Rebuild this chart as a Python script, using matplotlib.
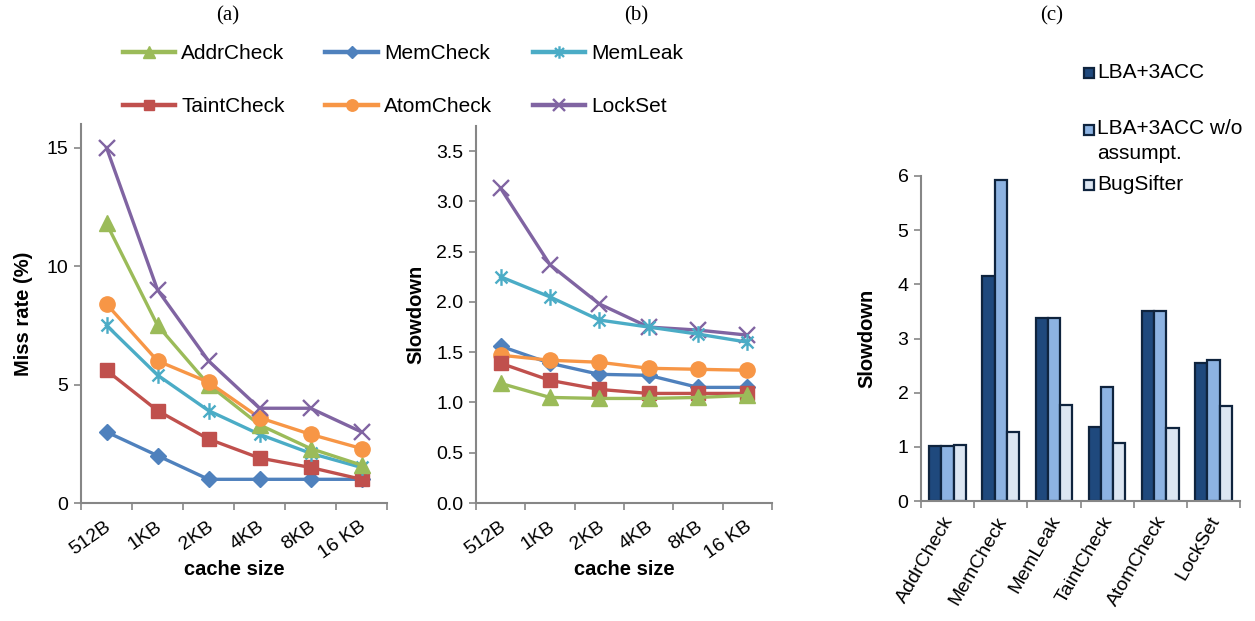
import matplotlib
matplotlib.use("Agg")
import matplotlib.pyplot as plt
from matplotlib.path import Path
from matplotlib.lines import Line2D
from matplotlib.patches import Rectangle
from matplotlib.transforms import ScaledTranslation
import numpy as np

# ---------------- data ----------------
cache_sizes = ["512B", "1KB", "2KB", "4KB", "8KB", "16 KB"]
series_names = ["AddrCheck", "MemCheck", "MemLeak", "TaintCheck", "AtomCheck", "LockSet"]

miss_addrcheck = [11.8, 7.5, 5.0, 3.3, 2.3, 1.6]
miss_memcheck = [3.0, 2.0, 1.0, 1.0, 1.0, 1.0]
miss_memleak = [7.5, 5.4, 3.9, 2.9, 2.1, 1.5]
miss_taintcheck = [5.6, 3.9, 2.7, 1.9, 1.5, 1.0]
miss_atomcheck = [8.4, 6.0, 5.1, 3.6, 2.9, 2.3]
miss_lockset = [15.0, 9.0, 6.0, 4.0, 4.0, 3.0]

slow_addrcheck = [1.19, 1.05, 1.04, 1.04, 1.05, 1.07]
slow_memcheck = [1.56, 1.39, 1.28, 1.27, 1.15, 1.15]
slow_memleak = [2.25, 2.05, 1.82, 1.75, 1.68, 1.60]
slow_taintcheck = [1.39, 1.22, 1.13, 1.09, 1.09, 1.09]
slow_atomcheck = [1.47, 1.42, 1.40, 1.34, 1.33, 1.32]
slow_lockset = [3.13, 2.37, 1.98, 1.75, 1.72, 1.67]

bar_categories = ["AddrCheck", "MemCheck", "MemLeak", "TaintCheck", "AtomCheck", "LockSet"]
bar_names = ["LBA+3ACC", "LBA+3ACC w/o\nassumpt.", "BugSifter"]
bar_lba = [1.01, 4.15, 3.37, 1.37, 3.50, 2.54]
bar_lba_noassume = [1.01, 5.92, 3.37, 2.10, 3.50, 2.61]
bar_bugsifter = [1.04, 1.27, 1.78, 1.08, 1.34, 1.75]

# ---------------- style ----------------
plt.rcParams['font.family'] = ['Liberation Sans', 'DejaVu Sans']
W, H = 1255, 621
fig = plt.figure(figsize=(W / 100, H / 100), dpi=100)

asterisk = Path([(0, -1), (0, 1), (-0.72, -0.72), (0.72, 0.72), (-0.72, 0.72), (0.72, -0.72)],
                [Path.MOVETO, Path.LINETO] * 3)

styles = {
    "AddrCheck": dict(color="#9BBB59", marker="^", ms=11),
    "MemCheck": dict(color="#4F81BD", marker="D", ms=8),
    "MemLeak": dict(color="#4BACC6", marker=asterisk, ms=12, mew=1.7),
    "TaintCheck": dict(color="#C0504D", marker="s", ms=10),
    "AtomCheck": dict(color="#F79646", marker="o", ms=11),
    "LockSet": dict(color="#8064A2", marker="x", ms=12, mew=1.7),
}
spine_col = "#868686"
tick_fs = 14
label_fs = 14.5
text_fs = 15


def axrect(l, r, b, t):
    return [l / W, (H - b) / H, (r - l) / W, (b - t) / H]


def style_axes(ax, ncat):
    for s in ["top", "right"]:
        ax.spines[s].set_visible(False)
    for s in ["left", "bottom"]:
        ax.spines[s].set_color(spine_col)
        ax.spines[s].set_linewidth(1.5)
    ax.set_xlim(-0.5, ncat - 0.5)
    ax.set_xticks(np.arange(ncat + 1) - 0.5)
    ax.set_xticklabels([])
    ax.tick_params(axis="x", which="major", length=5, width=1.2, color=spine_col, direction="out")
    ax.tick_params(axis="y", which="major", length=5, width=1.2, color=spine_col,
                   direction="out", labelsize=tick_fs, pad=4)
    ax.set_xticks(np.arange(ncat), minor=True)
    ax.tick_params(axis="x", which="minor", length=0, labelsize=tick_fs)


def shift_labels(ax, dx_px):
    off = ScaledTranslation(dx_px / 100, 0, fig.dpi_scale_trans)
    for lbl in ax.get_xticklabels(minor=True):
        lbl.set_transform(lbl.get_transform() + off)


x = np.arange(len(cache_sizes))

# ---------- (a) ----------
axA = fig.add_axes(axrect(81, 387, 503, 124))
miss = {"AddrCheck": miss_addrcheck, "MemCheck": miss_memcheck, "MemLeak": miss_memleak,
        "TaintCheck": miss_taintcheck, "AtomCheck": miss_atomcheck, "LockSet": miss_lockset}
for name in ["MemCheck", "TaintCheck", "MemLeak", "AddrCheck", "AtomCheck", "LockSet"]:
    st = styles[name]
    axA.plot(x, miss[name], color=st["color"], lw=2.4, marker=st["marker"],
             ms=st["ms"], mew=st.get("mew", 1.0), mec=st["color"], mfc=st["color"])
axA.set_ylim(0, 16)
axA.set_yticks([0, 5, 10, 15])
style_axes(axA, len(cache_sizes))
axA.set_xticklabels(cache_sizes, minor=True, rotation=35, ha="right", va="top",
                    rotation_mode="anchor")
axA.tick_params(axis="x", which="minor", pad=11)
shift_labels(axA, -2)
axA.set_ylabel("Miss rate (%)", fontsize=label_fs, fontweight="bold", labelpad=10)
axA.set_xlabel("cache size", fontsize=label_fs, fontweight="bold", labelpad=-2)

# ---------- (b) ----------
axB = fig.add_axes(axrect(476, 772, 503, 126))
slow = {"AddrCheck": slow_addrcheck, "MemCheck": slow_memcheck, "MemLeak": slow_memleak,
        "TaintCheck": slow_taintcheck, "AtomCheck": slow_atomcheck, "LockSet": slow_lockset}
for name in ["LockSet", "MemLeak", "MemCheck", "AtomCheck", "TaintCheck", "AddrCheck"]:
    st = styles[name]
    axB.plot(x, slow[name], color=st["color"], lw=2.4, marker=st["marker"],
             ms=st["ms"], mew=st.get("mew", 1.0), mec=st["color"], mfc=st["color"])
axB.set_ylim(0, 3.75)
yt = np.arange(0, 3.51, 0.5)
axB.set_yticks(yt)
axB.set_yticklabels([f"{v:.1f}" for v in yt])
style_axes(axB, len(cache_sizes))
axB.set_xticklabels(cache_sizes, minor=True, rotation=35, ha="right", va="top",
                    rotation_mode="anchor")
axB.tick_params(axis="x", which="minor", pad=11)
shift_labels(axB, -2)
axB.set_ylabel("Slowdown", fontsize=label_fs, fontweight="bold", labelpad=8)
axB.set_xlabel("cache size", fontsize=label_fs, fontweight="bold", labelpad=-2)

# shared legend for (a)/(b)
order = ["AddrCheck", "TaintCheck", "MemCheck", "AtomCheck", "MemLeak", "LockSet"]
leg_handles = []
for name in order:
    st = styles[name]
    leg_handles.append(Line2D([], [], color=st["color"], lw=3.2, marker=st["marker"],
                              ms=st["ms"] * 0.75, mew=st.get("mew", 1.0),
                              mec=st["color"], mfc=st["color"]))
fig.legend(leg_handles, order, ncol=3, loc="upper left",
           bbox_to_anchor=(123 / W, 1 - 44 / H), frameon=False, fontsize=text_fs,
           handlelength=2.5, handletextpad=0.3, columnspacing=1.95, labelspacing=1.65,
           borderpad=0, borderaxespad=0)

# ---------- (c) ----------
axC = fig.add_axes(axrect(921, 1240, 501, 176))
bw = 0.23
bar_cols = ["#1F497D", "#8DB3E2", "#DCE6F2"]
bar_edge = "#0F243E"
xc = np.arange(len(bar_categories))
bar_series = [bar_lba, bar_lba_noassume, bar_bugsifter]
for i, vals in enumerate(bar_series):
    axC.bar(xc + (i - 1) * bw, vals, width=bw, color=bar_cols[i], edgecolor=bar_edge,
            linewidth=1.6, zorder=2)
axC.set_ylim(0, 6)
axC.set_yticks(range(0, 7))
style_axes(axC, len(bar_categories))
axC.set_xticklabels(bar_categories, minor=True, rotation=60, ha="right", va="top",
                    rotation_mode="anchor")
axC.tick_params(axis="x", which="minor", pad=9)
shift_labels(axC, -5)
axC.set_ylabel("Slowdown", fontsize=label_fs, fontweight="bold", labelpad=15)

# legend for (c)
leg_y = [73, 130, 185]
for i, (name, yy) in enumerate(zip(bar_names, leg_y)):
    fig.patches.append(Rectangle((1084 / W, 1 - (yy + 5) / H), 10 / W, 10 / H,
                                 transform=fig.transFigure, facecolor=bar_cols[i],
                                 edgecolor=bar_edge, linewidth=1.6))
    if "\n" in name:
        fig.text(1097 / W, 1 - (yy - 11) / H, name, fontsize=text_fs, va="top",
                 ha="left", linespacing=1.4)
    else:
        fig.text(1097 / W, 1 - yy / H, name, fontsize=text_fs, va="center", ha="left")

# panel titles
for lbl, xx in [("(a)", 228), ("(b)", 636), ("(c)", 1052)]:
    fig.text(xx / W, 1 - 16 / H, lbl, fontsize=15, ha="center", va="center",
             family="Liberation Serif")

fig.savefig("out.png", dpi=100)
